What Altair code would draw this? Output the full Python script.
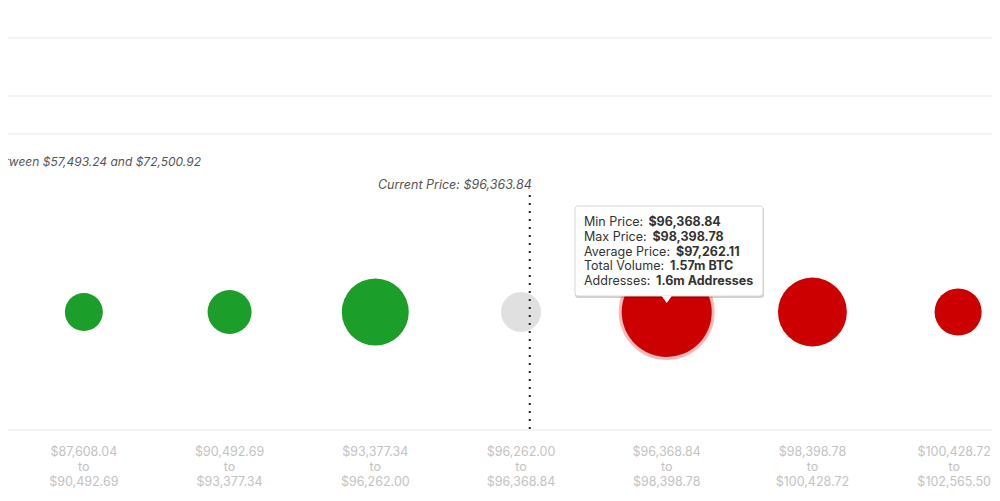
import altair as alt
import pandas as pd

# ---- data ----
bin_lo = ["$87,608.04", "$90,492.69", "$93,377.34", "$96,262.00", "$96,368.84", "$98,398.78", "$100,428.72"]
bin_hi = ["$90,492.69", "$93,377.34", "$96,262.00", "$96,368.84", "$98,398.78", "$100,428.72", "$102,565.50"]
volume_m_btc = [0.28, 0.375, 0.87, 0.31, 1.57, 0.92, 0.43]
status = ["In", "In", "In", "At", "Out", "Out", "Out"]
highlight = [False, False, False, False, True, False, False]

current_price_text = "Current Price: $96,363.84"
cluster_text = "between $57,493.24 and $72,500.92"

tip_labels = ["Min Price:", "Max Price:", "Average Price:", "Total Volume:", "Addresses:"]
tip_values = ["$96,368.84", "$98,398.78", "$97,262.11", "1.57m BTC", "1.6m Addresses"]

# ---- tables ----
cats = [f"{a}|{b}" for a, b in zip(bin_lo, bin_hi)]
df = pd.DataFrame({"bin": cats, "volume": volume_m_btc, "status": status, "hl": highlight})
df_tip = pd.DataFrame({"label": tip_labels, "value": tip_values, "line": list(range(len(tip_labels)))})

W, H = 984, 422
FONT = "Inter"

xenc = alt.X("bin:N", sort=cats, title=None,
             scale=alt.Scale(range=[3, 1023], paddingInner=0, paddingOuter=0),
             axis=alt.Axis(labelExpr="[split(datum.value,'|')[0], 'to', split(datum.value,'|')[1]]",
                           labelAngle=0, domain=False, ticks=False, tickSize=0, grid=False,
                           labelPadding=15, labelFontSize=12.5, labelColor="#c3c3c3",
                           labelLineHeight=15, labelFont=FONT, labelAlign="center",
                           labelOffset={"condition": {"test": "datum.index == 1", "value": -4}, "value": 0}))
size_scale = alt.Scale(domain=[0, 1.57], range=[0, 8100])
cy = 304

base = alt.Chart(df)

# horizontal frame lines
lines_df = pd.DataFrame({"y": [30, 88, 126]})
hlines = alt.Chart(lines_df).mark_rule(color="#e9e9e9", strokeWidth=1).encode(
    x=alt.value(0), x2=alt.value(W), y=alt.Y("y:Q", scale=None))
bottom = alt.Chart(pd.DataFrame({"a": [0]})).mark_rule(color="#e4e4e4", strokeWidth=1).encode(
    x=alt.value(0), x2=alt.value(W), y=alt.value(H))

halo = base.transform_filter("datum.hl").mark_circle(
    opacity=1, color="#f6b9b9", stroke="#f6b9b9", strokeWidth=6).encode(
    x=xenc, y=alt.value(cy), size=alt.Size("volume:Q", scale=size_scale, legend=None))

circles = base.mark_circle(opacity=1).encode(
    x=xenc, y=alt.value(cy),
    size=alt.Size("volume:Q", scale=size_scale, legend=None),
    color=alt.Color("status:N", scale=alt.Scale(domain=["In", "At", "Out"],
                                                range=["#1b9e2a", "#e0e0e0", "#cc0000"]), legend=None))

# current price dotted line (near the top of the gray bin)
cur = base.transform_filter("datum.status == 'At'").mark_rule(
    color="#222", strokeWidth=2, strokeDash=[2, 6]).encode(
    x=alt.X("bin:N", sort=cats, bandPosition=0.56), y=alt.value(187), y2=alt.value(H))
cur_text = base.transform_filter("datum.status == 'At'").mark_text(
    align="right", baseline="middle", fontStyle="italic", fontSize=12.5, font=FONT,
    color="#555", dx=2).encode(
    x=alt.X("bin:N", sort=cats, bandPosition=0.56), y=alt.value(177), text=alt.value(current_price_text))

cluster = alt.Chart(pd.DataFrame({"t": [cluster_text]})).mark_text(
    align="right", baseline="middle", fontStyle="italic", fontSize=12, font=FONT, color="#555").encode(
    x=alt.value(193), y=alt.value(154), text="t:N")

# tooltip box
box_shadow = alt.Chart(pd.DataFrame({"a": [0]})).mark_rect(
    color="#000", opacity=0.18, cornerRadius=3).encode(
    x=alt.value(567), x2=alt.value(756), y=alt.value(199), y2=alt.value(290))
box = alt.Chart(pd.DataFrame({"a": [0]})).mark_rect(
    color="white", stroke="#d6d6d6", strokeWidth=1, cornerRadius=3).encode(
    x=alt.value(567), x2=alt.value(755), y=alt.value(198), y2=alt.value(288))
pointer = base.transform_filter("datum.hl").mark_point(
    shape="M-1,-1L1,-1L0,0.4Z", filled=True, color="white", opacity=1, size=100).encode(
    x=xenc, y=alt.value(293))

tip_y = "214 + 14.8 * datum.line"
tip_lab = alt.Chart(df_tip).transform_calculate(py=tip_y).mark_text(
    align="left", baseline="middle", fontSize=12.5, font=FONT, color="#333").encode(
    x=alt.value(576), y=alt.Y("py:Q", scale=None), text="label:N")
value_dx = [64.4, 68.4, 92.0, 86.0, 72.0]
tip_vals = []
for i in range(len(tip_labels)):
    tip_vals.append(alt.Chart(df_tip).transform_filter(f"datum.line == {i}").transform_calculate(py=tip_y).mark_text(
        align="left", baseline="middle", fontSize=12.5, font=FONT, fontWeight="bold", color="#333",
        dx=value_dx[i]).encode(x=alt.value(576), y=alt.Y("py:Q", scale=None), text="value:N"))

chart = alt.layer(hlines, bottom, halo, circles, cur, cur_text, cluster,
                  box_shadow, box, pointer, tip_lab, *tip_vals).properties(
    width=W, height=H,
    autosize=alt.AutoSizeParams(type="none"),
    padding={"left": 0, "top": 0, "right": 0, "bottom": 60},
    background="white",
).configure_view(stroke=None).configure_axis(labelFont=FONT)

chart.save("out.html", embed_options={"renderer": "svg", "actions": False})
